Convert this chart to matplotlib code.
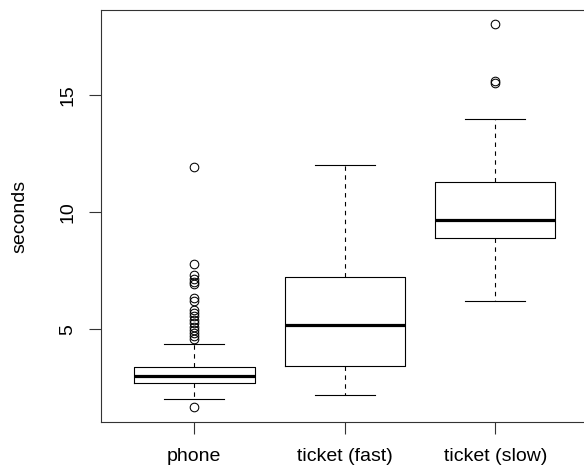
import numpy as np
import matplotlib.pyplot as plt
import matplotlib as mpl

mpl.rcParams['font.family'] = ['Liberation Sans', 'DejaVu Sans']

# groups and five-number summaries
groups = ['phone', 'ticket (fast)', 'ticket (slow)']
whislo = [2.04, 2.2, 6.19]
q1 = [2.72, 3.45, 8.9]
med = [3.02, 5.18, 9.67]
q3 = [3.38, 7.22, 11.29]
whishi = [4.37, 12.0, 13.95]
fliers = [
    [11.92, 7.78, 7.3, 7.16, 7.02, 6.95, 6.32, 6.22, 5.82, 5.69, 5.57,
     5.4, 5.27, 5.1, 4.97, 4.84, 4.72, 4.59, 1.7],
    [],
    [18.0, 15.6, 15.5],
]
yticks = [5, 10, 15]


def main():
    stats = []
    for i in range(len(groups)):
        stats.append(dict(label=groups[i], whislo=whislo[i], q1=q1[i], med=med[i],
                          q3=q3[i], whishi=whishi[i], fliers=fliers[i]))

    fig = plt.figure(figsize=(5.84, 4.70), dpi=100, facecolor='w')
    ax = fig.add_axes([101 / 584, 48 / 470, 487.6 / 584, 412 / 470])

    lw = 0.8
    ax.bxp(stats, positions=[1, 2, 3], widths=0.8,
           boxprops=dict(color='black', linewidth=lw),
           medianprops=dict(color='black', linewidth=2.3, solid_capstyle='butt'),
           whiskerprops=dict(color='black', linewidth=lw, linestyle=(0, (4, 4))),
           capprops=dict(color='black', linewidth=lw),
           flierprops=dict(marker='o', markersize=6.2, markerfacecolor='none',
                           markeredgecolor='black', markeredgewidth=0.75, linestyle='none'),
           capwidths=0.4)

    ax.set_xlim(0.38, 3.62)
    ax.set_ylim(1.05, 18.61)
    ax.set_yticks(yticks)
    ax.set_yticklabels([str(t) for t in yticks], rotation=90, va='center')
    ax.set_xticks([1, 2, 3])
    ax.set_xticklabels(groups)
    fs = 14
    ax.set_ylabel('seconds', fontsize=fs, labelpad=22)

    ax.tick_params(axis='both', length=8.4, width=0.8, color='#333333', labelsize=fs)
    ax.tick_params(axis='y', pad=9.5)
    ax.tick_params(axis='x', pad=10.6)
    for s in ax.spines.values():
        s.set_linewidth(0.8)
        s.set_color('#333333')

    fig.savefig('out.png', dpi=100)


if __name__ == '__main__':
    main()
